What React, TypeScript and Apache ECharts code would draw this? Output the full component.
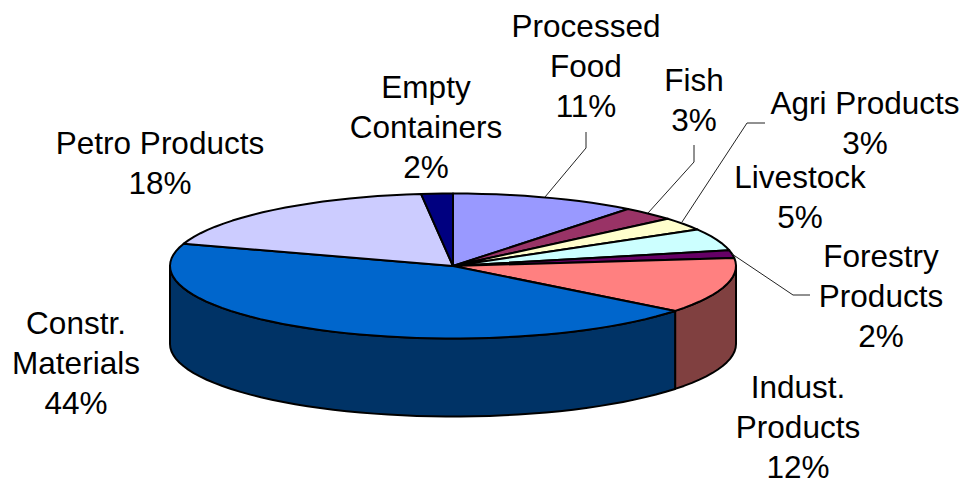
import React, { useEffect, useRef } from "react";
import * as echarts from "echarts";

const categories = ["Processed Food", "Fish", "Agri Products", "Livestock", "Forestry Products", "Indust. Products", "Constr. Materials", "Petro Products", "Empty Containers"];
const shares = [10.6, 3.1, 2.9, 4.9, 1.7, 12.4, 44.3, 18.2, 1.8];
const topColors = ["#9999FF", "#993366", "#FFFFCC", "#CCFFFF", "#660066", "#FF8080", "#0066CC", "#CCCCFF", "#000080"];
const sideColors = ["#4D4D80", "#4D1A33", "#808066", "#668080", "#330033", "#804040", "#003366", "#666680", "#000040"];
const labelLines = [
  ["Processed", "Food"], ["Fish"], ["Agri Products"], ["Livestock"], ["Forestry", "Products"],
  ["Indust.", "Products"], ["Constr.", "Materials"], ["Petro Products"], ["Empty", "Containers"],
];
const labelCenters = [[586, 66], [694, 100], [865, 123], [800, 197], [881, 296], [798, 427], [76, 363], [160, 163], [426, 127]];
const leaders = [
  [[586, 132], [586, 148], [545, 197]],
  [[694, 145], [694, 162], [648, 213]],
  [[765, 123], [747, 123], [682, 222]],
  [[810, 295], [793, 295], [732, 254]],
];

const CX = 453, CY = 266, RX = 283, RY = 72.5, DEPTH = 78;
const total = shares.reduce((a, b) => a + b, 0);
const starts = shares.map((_, i) => shares.slice(0, i).reduce((a, b) => a + b, 0));
const pt = (deg: number, dy = 0) => {
  const r = (deg * Math.PI) / 180;
  return [CX + RX * Math.sin(r), CY - RY * Math.cos(r) + dy];
};
const arc = (a: number, b: number, dy = 0) => {
  const pts: number[][] = [];
  const n = Math.max(1, Math.ceil((b - a) / 3));
  for (let k = 0; k <= n; k++) pts.push(pt(a + ((b - a) * k) / n, dy));
  return pts;
};
const edge = { stroke: "#000", lineWidth: 2, lineJoin: "round" };

function sideItem(params: any) {
  const i = params.dataIndex;
  const a = Math.max((starts[i] / total) * 360, 90);
  const b = Math.min(((starts[i] + shares[i]) / total) * 360, 270);
  if (b <= a) return { type: "group", children: [] };
  return {
    type: "polygon",
    shape: { points: [...arc(a, b), ...arc(a, b, DEPTH).reverse()] },
    style: { fill: sideColors[i], ...edge },
  };
}
function topItem(params: any) {
  const i = params.dataIndex;
  const a = (starts[i] / total) * 360;
  const b = ((starts[i] + shares[i]) / total) * 360;
  return {
    type: "polygon",
    shape: { points: [[CX, CY], ...arc(a, b)] },
    style: { fill: topColors[i], ...edge },
  };
}

export default function App() {
  const ref = useRef<HTMLDivElement>(null);
  useEffect(() => {
    const chart = echarts.init(ref.current!, undefined, { renderer: "svg" });
    chart.setOption({
      animation: false,
      backgroundColor: "#fff",
      series: [
        { type: "custom", coordinateSystem: "none", silent: true, z: 1, data: shares, renderItem: sideItem },
        { type: "custom", coordinateSystem: "none", silent: true, z: 2, data: shares, renderItem: topItem },
      ],
      graphic: [
        ...leaders.map((points) => ({
          type: "polyline", z: 5, shape: { points },
          style: { fill: "none", stroke: "#222", lineWidth: 1 },
        })),
        ...categories.map((_, i) => ({
          type: "text", z: 6,
          x: labelCenters[i][0], y: labelCenters[i][1],
          style: {
            text: [...labelLines[i], `${Math.round(shares[i])}%`].join("\n"),
            fontFamily: "Liberation Sans", fontSize: 31.5, lineHeight: 40,
            fill: "#000", align: "center", verticalAlign: "middle",
          },
        })),
      ],
    });
    return () => chart.dispose();
  }, []);
  return <div ref={ref} style={{ position: "absolute", left: 0, top: 0, width: 963, height: 484 }} />;
}
